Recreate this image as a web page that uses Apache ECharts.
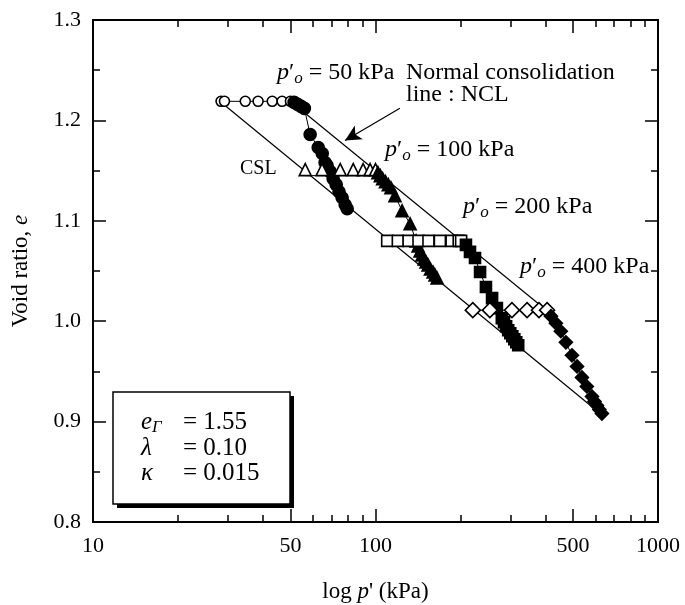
<!DOCTYPE html>
<html>
<head>
<meta charset="utf-8">
<script src="https://cdn.jsdelivr.net/npm/echarts@6/dist/echarts.min.js"></script>
<style>
  html, body { margin: 0; padding: 0; background: #fff; }
  #main { width: 685px; height: 605px; }
</style>
</head>
<body>
<div id="main"></div>
<script>
// tick values
const majorTicksX = [10, 50, 100, 500, 1000];
const minorTicksX = [20, 30, 40, 60, 70, 80, 90, 200, 300, 400, 600, 700, 800, 900];

// critical state line and normal consolidation line (p', e)
const cslLine = [[28.4, 1.218], [637, 0.906]];
const nclLine = [[50, 1.219], [415, 1.008]];
// arrow pointing at NCL
const nclArrow = [[122, 1.212], [78, 1.180]];

// p'o = 50 kPa
const circleOpen = [[28.4, 1.219], [29.2, 1.219], [34.6, 1.219], [38.4, 1.219], [43.1, 1.219], [46.7, 1.219], [50, 1.219]];
const circleFilled = [[51.5, 1.218], [53, 1.216], [54.5, 1.214], [56, 1.212], [58.7, 1.186], [62.7, 1.173],
  [64.8, 1.167], [66.3, 1.158], [67.4, 1.155], [69.1, 1.149], [70.8, 1.142], [72.6, 1.136], [74.3, 1.129],
  [76.2, 1.123], [78.1, 1.116], [79.4, 1.112]];

// p'o = 100 kPa
const triOpen = [[56.4, 1.145], [64.7, 1.145], [75, 1.145], [83.4, 1.145], [90.4, 1.145], [95.7, 1.145], [100, 1.145]];
const triFilled = [[102, 1.148], [104, 1.145], [106, 1.142], [108.5, 1.139], [111, 1.136], [113.4, 1.133],
  [117.2, 1.125], [124.2, 1.110], [132.6, 1.097], [139.2, 1.080], [141.5, 1.075], [143.8, 1.070], [146, 1.066],
  [148.6, 1.062], [151, 1.059], [153.5, 1.056], [156.5, 1.052], [159.9, 1.049], [162.5, 1.046], [165.2, 1.043]];

// p'o = 200 kPa
const sqOpen = [[110, 1.080], [120, 1.080], [131, 1.080], [142, 1.080], [154, 1.080], [169, 1.080], [186, 1.080], [197, 1.080], [201, 1.080]];
const sqFilled = [[209, 1.076], [216, 1.069], [225, 1.063], [234.5, 1.049], [246, 1.034], [258.6, 1.023],
  [269, 1.013], [280, 1.003], [285, 0.999], [290, 0.995], [295, 0.991], [300, 0.988], [305, 0.985],
  [310, 0.982], [315, 0.979], [320, 0.976]];

// p'o = 400 kPa
const dmOpen = [[221, 1.011], [254, 1.011], [304, 1.011], [344, 1.011], [379, 1.011], [405, 1.011]];
const dmFilled = [[418, 1.005], [435, 0.998], [453, 0.990], [472, 0.979], [496, 0.966], [517, 0.955],
  [538, 0.944], [560, 0.935], [584, 0.925], [596, 0.920], [608, 0.916], [620, 0.912], [633, 0.908]];

const FONT = "'Liberation Serif', 'Times New Roman', serif";

const richStyle = {
  i: { fontFamily: FONT, fontStyle: 'italic', fontSize: 24, lineHeight: 28, color: '#000' },
  n: { fontFamily: FONT, fontSize: 24, lineHeight: 28, color: '#000' },
  s: { fontFamily: FONT, fontStyle: 'italic', fontSize: 17, lineHeight: 16, verticalAlign: 'bottom', color: '#000' }
};
const titleRich = {
  i: { fontFamily: FONT, fontStyle: 'italic', fontSize: 23, lineHeight: 28, color: '#000' },
  n: { fontFamily: FONT, fontSize: 23, lineHeight: 28, color: '#000' }
};
const boxRich = {
  i: { fontFamily: FONT, fontStyle: 'italic', fontSize: 25, lineHeight: 28, color: '#000' },
  n: { fontFamily: FONT, fontSize: 25, lineHeight: 28, color: '#000' },
  s: { fontFamily: FONT, fontStyle: 'italic', fontSize: 17, lineHeight: 17, verticalAlign: 'bottom', color: '#000' }
};

function xAxisDef(pos, ticks, len, withLabel) {
  return {
    type: 'log', logBase: 10, min: 10, max: 1000, position: pos,
    axisLine: { show: true, lineStyle: { color: '#000', width: 2 } },
    axisTick: { show: true, inside: true, length: len, customValues: ticks, lineStyle: { color: '#000', width: 1.5 } },
    axisLabel: withLabel ? {
      show: true, customValues: majorTicksX, margin: 13, color: '#000', fontFamily: FONT, fontSize: 22,
      formatter: v => String(v)
    } : { show: false },
    splitLine: { show: false },
    minorTick: { show: false }
  };
}

function yAxisDef(pos, withLabel) {
  return {
    type: 'value', min: 0.8, max: 1.3, interval: 0.1, position: pos,
    axisLine: { show: true, lineStyle: { color: '#000', width: 2 } },
    axisTick: { show: true, inside: true, length: 13, lineStyle: { color: '#000', width: 1.5 } },
    minorTick: { show: true, splitNumber: 2, length: 7, lineStyle: { color: '#000', width: 1.5 } },
    axisLabel: withLabel ? {
      show: true, margin: 12, color: '#000', fontFamily: FONT, fontSize: 22,
      formatter: v => v.toFixed(1)
    } : { show: false },
    splitLine: { show: false }
  };
}

function markerSeries(data, symbol, size, filled, extra) {
  return Object.assign({
    type: 'line', data: data, symbol: symbol, symbolSize: size, showAllSymbol: true,
    lineStyle: { color: '#000', width: 1 },
    itemStyle: { color: filled ? '#000' : '#fff', borderColor: '#000', borderWidth: 1.6 },
    emphasis: { disabled: true },
    animation: false, z: 3
  }, extra || {});
}

const chart = echarts.init(document.getElementById('main'));

const xMain = xAxisDef('bottom', majorTicksX, 13, true);
xMain.name = '{n|log }{i|p}{n|\' (kPa)}';
xMain.nameLocation = 'middle';
xMain.nameGap = 56;
xMain.nameTextStyle = { rich: titleRich };

const yMain = yAxisDef('left', true);
yMain.name = '{n|Void ratio, }{i|e}';
yMain.nameLocation = 'middle';
yMain.nameGap = 58;
yMain.nameTextStyle = { rich: titleRich };

chart.setOption({
  animation: false,
  backgroundColor: '#fff',
  grid: { left: 93, right: 27, top: 20, bottom: 83, containLabel: false, outerBoundsMode: 'none' },
  xAxis: [
    xMain,
    xAxisDef('bottom', minorTicksX, 7, false),
    xAxisDef('top', majorTicksX, 13, false),
    xAxisDef('top', minorTicksX, 7, false)
  ],
  yAxis: [yMain, yAxisDef('right', false)],
  series: [
    {
      type: 'line', data: cslLine, symbol: 'none', lineStyle: { color: '#000', width: 1.2 }, z: 2
    },
    {
      type: 'line', data: nclLine, symbol: 'none', lineStyle: { color: '#000', width: 1.2 }, z: 2,
      markLine: {
        silent: true, symbol: ['none', 'arrow'], symbolSize: [12, 16],
        lineStyle: { color: '#000', width: 1.2, type: 'solid' },
        label: { show: false },
        data: [[{ coord: nclArrow[0] }, { coord: nclArrow[1] }]]
      }
    },
    markerSeries(circleOpen, 'circle', 10, false),
    markerSeries(circleFilled, 'circle', 12, true),
    markerSeries(triOpen, 'triangle', 12, false, { symbolOffset: [0, -6] }),
    markerSeries(triFilled, 'triangle', 12, true),
    markerSeries(sqOpen, 'rect', 11, false),
    markerSeries(sqFilled, 'rect', 11, true),
    markerSeries(dmOpen, 'diamond', 15, false),
    markerSeries(dmFilled, 'diamond', 13, true)
  ],
  graphic: [
    { type: 'text', left: 277, top: 61, style: { text: '{i|p}{n|′}{s|o}{n| = 50 kPa}', rich: richStyle } },
    { type: 'text', left: 406, top: 61, style: { text: '{n|Normal consolidation}', rich: richStyle } },
    { type: 'text', left: 406, top: 83, style: { text: '{n|line : NCL}', rich: richStyle } },
    { type: 'text', left: 385, top: 138, style: { text: '{i|p}{n|′}{s|o}{n| = 100 kPa}', rich: richStyle } },
    { type: 'text', left: 463, top: 195, style: { text: '{i|p}{n|′}{s|o}{n| = 200 kPa}', rich: richStyle } },
    { type: 'text', left: 520, top: 255, style: { text: '{i|p}{n|′}{s|o}{n| = 400 kPa}', rich: richStyle } },
    { type: 'text', left: 240, top: 159, style: { text: 'CSL', fill: '#000', font: '20px ' + FONT } },
    { type: 'rect', shape: { x: 117, y: 396, width: 177, height: 112 }, style: { fill: '#000' }, z: 10 },
    { type: 'rect', shape: { x: 113, y: 392, width: 177, height: 112 }, style: { fill: '#fff', stroke: '#000', lineWidth: 1.5 }, z: 11 },
    { type: 'text', left: 141, top: 410, z: 12, style: { text: '{i|e}{s|Γ}', rich: boxRich } },
    { type: 'text', left: 141, top: 436, z: 12, style: { text: '{i|λ}', rich: boxRich } },
    { type: 'text', left: 141, top: 461, z: 12, style: { text: '{i|κ}', rich: boxRich } },
    { type: 'text', left: 183, top: 410, z: 12, style: { text: '{n|= 1.55}', rich: boxRich } },
    { type: 'text', left: 183, top: 436, z: 12, style: { text: '{n|= 0.10}', rich: boxRich } },
    { type: 'text', left: 183, top: 461, z: 12, style: { text: '{n|= 0.015}', rich: boxRich } }
  ]
});
</script>
</body>
</html>
